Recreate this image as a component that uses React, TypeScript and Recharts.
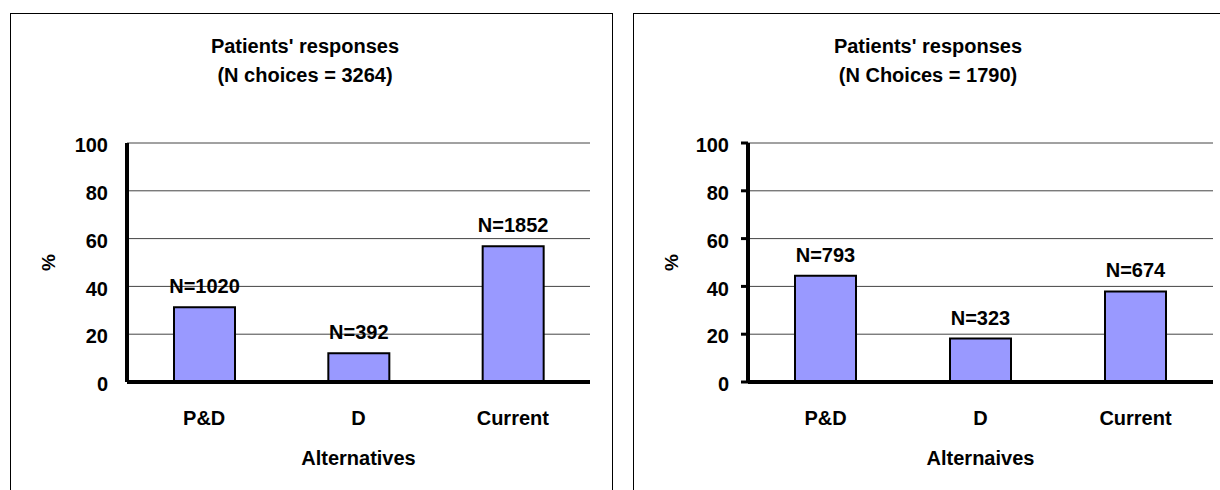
import React from "react";
import { BarChart, Bar, XAxis, YAxis, CartesianGrid, LabelList } from "recharts";

const categories = ["P&D", "D", "Current"];
const yTicks = [0, 20, 40, 60, 80, 100];

// left panel
const leftValues = [31.3, 12.0, 56.8];
const leftCounts = ["N=1020", "N=392", "N=1852"];
const leftTitle = ["Patients' responses", "(N choices = 3264)"];
const leftXTitle = "Alternatives";

// right panel
const rightValues = [44.5, 18.2, 37.9];
const rightCounts = ["N=793", "N=323", "N=674"];
const rightTitle = ["Patients' responses", "(N Choices = 1790)"];
const rightXTitle = "Alternaives";

const FONT = "'Liberation Sans', Arial, sans-serif";

interface IPanelProps {
  left: number;
  values: number[];
  counts: string[];
  title: string[];
  xTitle: string;
  yAxisWidth: number;
  showTicks: boolean;
}

function Panel({ left, values, counts, title, xTitle, yAxisWidth, showTicks }: IPanelProps) {
  const data = categories.map((c, i) => ({ name: c, value: values[i], n: counts[i] }));
  return (
    <div
      style={{
        position: "absolute",
        left,
        top: 13,
        width: 601,
        height: 500,
        border: "1px solid #000",
        background: "#fff",
        fontFamily: FONT,
      }}
    >
      <div
        style={{
          position: "absolute",
          left: 0,
          top: 18,
          width: 588,
          textAlign: "center",
          fontWeight: 700,
          fontSize: 20,
          lineHeight: "29px",
          color: "#000",
        }}
      >
        {title.map((t) => (
          <div key={t}>{t}</div>
        ))}
      </div>
      <BarChart
        width={601}
        height={480}
        data={data}
        margin={{ top: 129, right: 22, bottom: 52, left: 0 }}
        style={{ position: "absolute", left: 0, top: 0 }}
      >
        <CartesianGrid vertical={false} stroke="#444" strokeWidth={1} />
        <XAxis
          dataKey="name"
          height={60}
          axisLine={{ stroke: "#000", strokeWidth: 4 }}
          tickLine={false}
          tickSize={0}
          tickMargin={29}
          tick={{ fill: "#000", fontSize: 20, fontWeight: 700, fontFamily: FONT }}
          label={(p: any) => {
            const vb = p.viewBox || {};
            return (
              <text
                x={vb.x + vb.width / 2}
                y={vb.y + 83}
                textAnchor="middle"
                fill="#000"
                fontSize={20}
                fontWeight={700}
                fontFamily={FONT}
              >
                {xTitle}
              </text>
            );
          }}
        />
        <YAxis
          width={yAxisWidth}
          domain={[0, 100]}
          ticks={yTicks}
          interval={0}
          axisLine={{ stroke: "#000", strokeWidth: 4 }}
          tickLine={showTicks ? { stroke: "#000", strokeWidth: 3 } : false}
          tickSize={showTicks ? 7 : 0}
          tickMargin={showTicks ? 12 : 19}
          tick={{ fill: "#000", fontSize: 20, fontWeight: 700, fontFamily: FONT, dy: 2 }}
          label={(p: any) => {
            const vb = p.viewBox || {};
            const cx = 37;
            const cy = vb.y + vb.height / 2;
            return (
              <text
                x={cx}
                y={cy}
                transform={`rotate(-90, ${cx}, ${cy})`}
                textAnchor="middle"
                dominantBaseline="central"
                fill="#000"
                fontSize={19}
                fontWeight={700}
                fontFamily={FONT}
              >
                %
              </text>
            );
          }}
        />
        <Bar
          dataKey="value"
          fill="#9999FF"
          stroke="#000"
          strokeWidth={2}
          barSize={61}
          isAnimationActive={false}
        >
          <LabelList
            dataKey="n"
            position="top"
            offset={14}
            fill="#000"
            fontSize={20}
            fontWeight={700}
            fontFamily={FONT}
          />
        </Bar>
      </BarChart>
    </div>
  );
}

export default function App() {
  return (
    <div
      style={{
        position: "fixed",
        left: 0,
        top: 0,
        width: 1220,
        height: 490,
        overflow: "hidden",
        background: "#fff",
      }}
    >
      <Panel
        left={10}
        values={leftValues}
        counts={leftCounts}
        title={leftTitle}
        xTitle={leftXTitle}
        yAxisWidth={116}
        showTicks={false}
      />
      <Panel
        left={633}
        values={rightValues}
        counts={rightCounts}
        title={rightTitle}
        xTitle={rightXTitle}
        yAxisWidth={114}
        showTicks={true}
      />
    </div>
  );
}
